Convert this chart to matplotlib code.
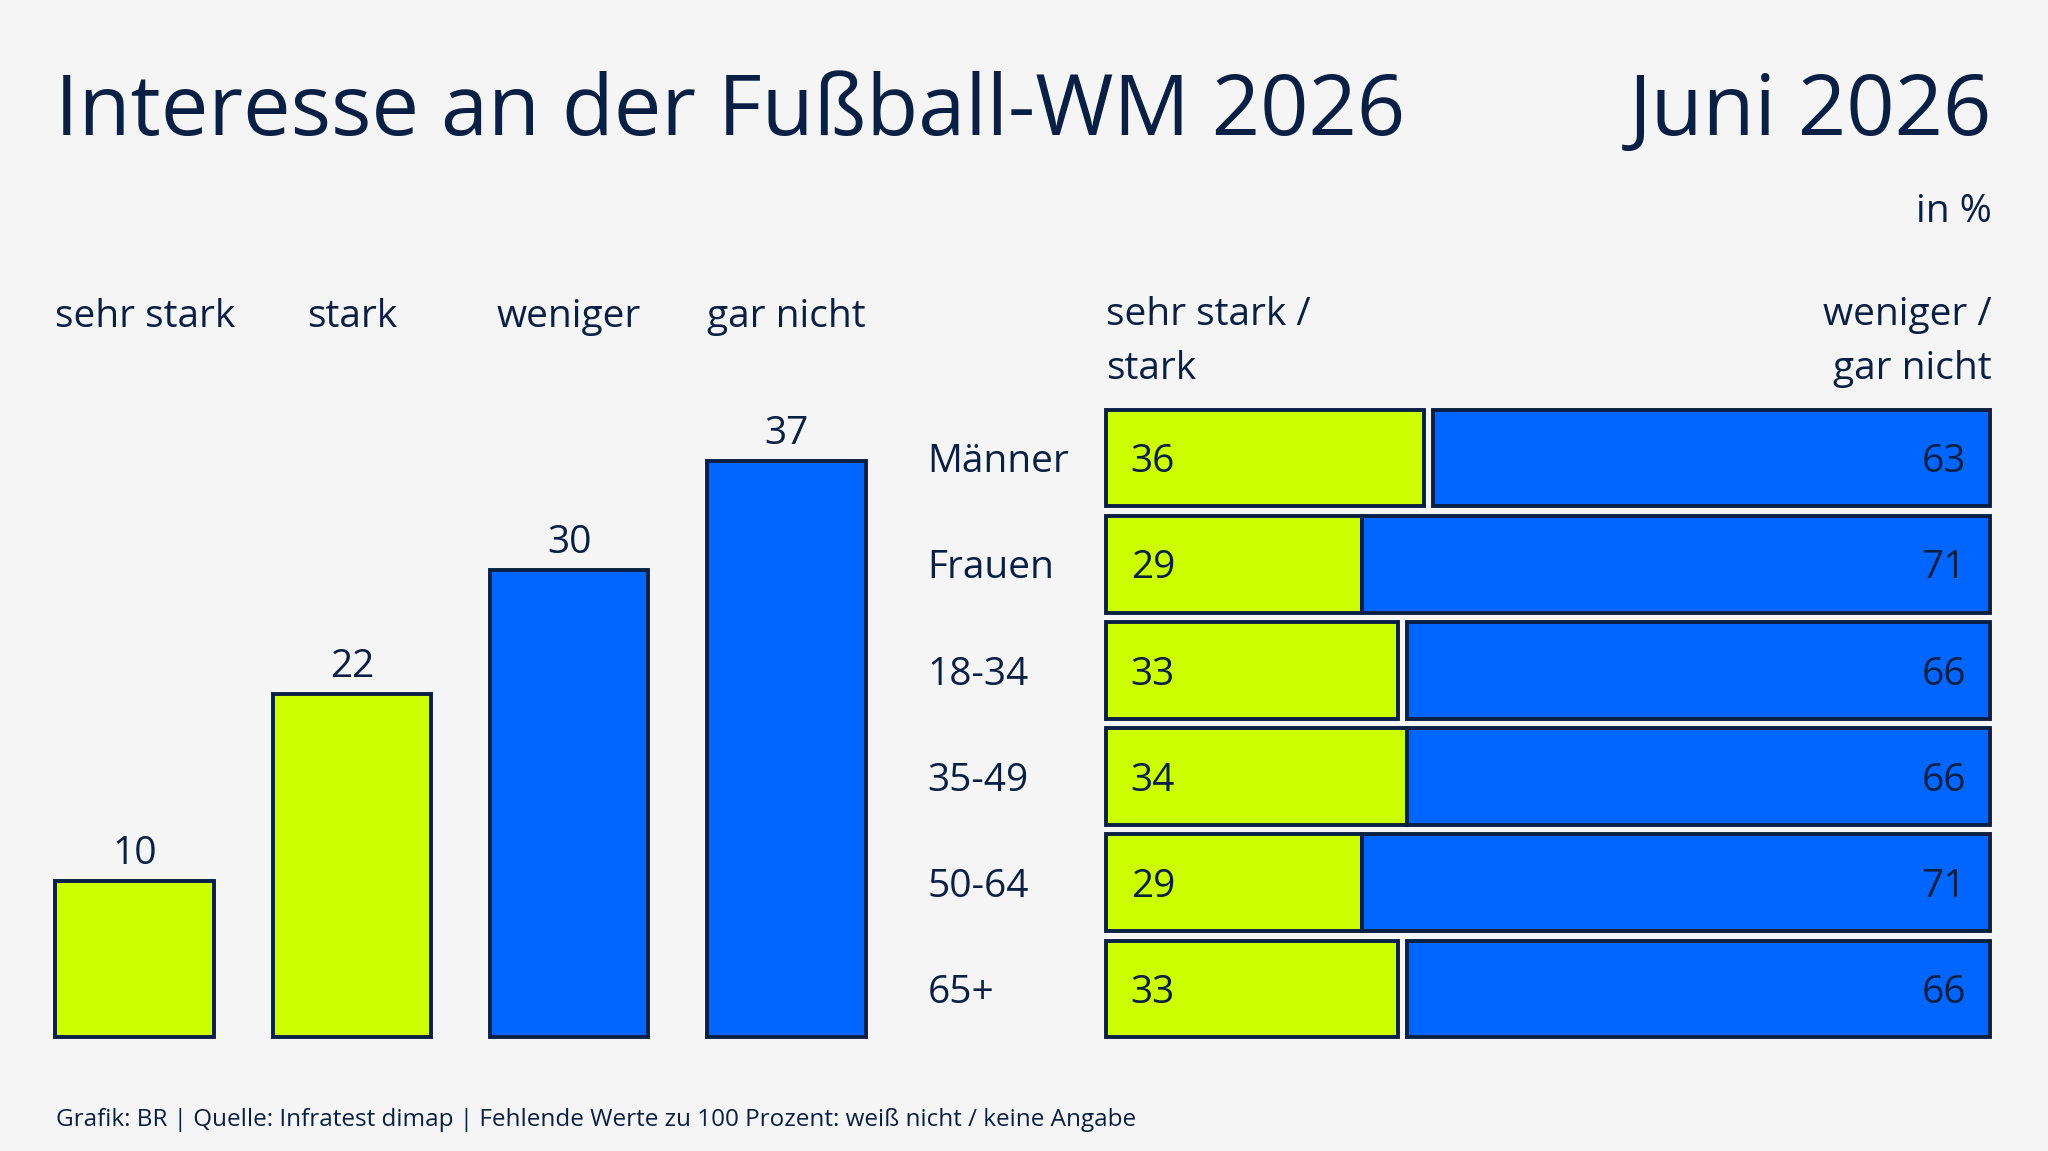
import matplotlib
matplotlib.use("Agg")
import matplotlib.pyplot as plt
from matplotlib import font_manager

# Daten
kategorien = ["sehr stark", "stark", "weniger", "gar nicht"]
gesamt = [10, 22, 30, 37]
gruppen = ["Männer", "Frauen", "18-34", "35-49", "50-64", "65+"]
stark_werte = [36, 29, 33, 34, 29, 33]
schwach_werte = [63, 71, 66, 66, 71, 66]

GRUEN = "#CCFF00"
BLAU = "#0066FF"
NAVY = "#0A1F44"
BG = "#F5F5F5"

# schmale Schrift, falls vorhanden
namen = {f.name for f in font_manager.fontManager.ttflist}
FONT = "Liberation Sans Narrow" if "Liberation Sans Narrow" in namen else "Open Sans"
plt.rcParams["font.family"] = [FONT, "DejaVu Sans"]

W, H = 2048, 1151
fig = plt.figure(figsize=(W / 100, H / 100), dpi=100, facecolor=BG)

FS = 28  # normale Textgröße


def fx(x):
    return x / W


def fy(y):
    return (H - y) / H


# Titel
fig.text(fx(55), fy(135), "Interesse an der Fußball-WM 2026", fontsize=61,
         color=NAVY, va="baseline", ha="left")
fig.text(fx(1992), fy(135), "Juni 2026", fontsize=61, color=NAVY,
         va="baseline", ha="right")
fig.text(fx(1992), fy(222), "in %", fontsize=FS, color=NAVY,
         va="baseline", ha="right")

# linker Teil: Säulen
pitch = 217.3
x_left = 134.5 - 0.6 * pitch
x_right = 786.5 + 0.6 * pitch
unit = 15.58
ymax = 45
ax1 = fig.add_axes([fx(x_left), fy(1037), fx(x_right - x_left), ymax * unit / H])
ax1.set_xlim(-0.6, 3.6)
ax1.set_ylim(0, ymax)
ax1.axis("off")
farben = [GRUEN, GRUEN, BLAU, BLAU]
ax1.bar(range(4), gesamt, width=0.73, color=farben, edgecolor=NAVY,
        linewidth=2.8, clip_on=False)
for i, v in enumerate(gesamt):
    ax1.text(i, v + 0.5, str(v), ha="center", va="bottom", fontsize=FS,
             color=NAVY)
for i, k in enumerate(kategorien):
    if i == 0:
        ax1.text(i - 0.365, 45.6, k, ha="left", va="baseline", fontsize=FS,
                 color=NAVY)
    else:
        ax1.text(i, 45.6, k, ha="center", va="baseline", fontsize=FS,
                 color=NAVY)

# rechter Teil: gestapelte Balken
row_pitch = 106.2
top = 458 - 0.5 * row_pitch
bottom = 989 + 0.5 * row_pitch
ax2 = fig.add_axes([fx(1106), fy(bottom), fx(1990 - 1106), (bottom - top) / H])
ax2.set_xlim(0, 100)
ax2.set_ylim(len(gruppen) - 0.5, -0.5)
ax2.axis("off")
ypos = range(len(gruppen))
ax2.barh(ypos, stark_werte, height=0.91, color=GRUEN, edgecolor=NAVY,
         linewidth=2.8, clip_on=False)
links = [100 - v for v in schwach_werte]
ax2.barh(ypos, schwach_werte, left=links, height=0.91, color=BLAU,
         edgecolor=NAVY, linewidth=2.8, clip_on=False)
for i, g in enumerate(gruppen):
    ty = i + 0.04
    ax2.text(-20.2, ty, g, ha="left", va="center", fontsize=FS, color=NAVY)
    ax2.text(2.8, ty, str(stark_werte[i]), ha="left", va="center",
             fontsize=FS, color=NAVY)
    ax2.text(97.3, ty, str(schwach_werte[i]), ha="right", va="center",
             fontsize=FS, color=NAVY)

fig.text(fx(1106), fy(296), "sehr stark /\nstark", fontsize=FS, color=NAVY,
         ha="left", va="top", linespacing=1.55)
fig.text(fx(1992), fy(296), "weniger /\ngar nicht", fontsize=FS, color=NAVY,
         ha="right", va="top", linespacing=1.55, multialignment="right")

# Fußzeile
fig.text(fx(56), fy(1126),
         "Grafik: BR | Quelle: Infratest dimap | Fehlende Werte zu 100 Prozent: weiß nicht / keine Angabe",
         fontsize=17.5, color=NAVY, ha="left", va="baseline")

fig.savefig("out.png", dpi=100, facecolor=BG)
